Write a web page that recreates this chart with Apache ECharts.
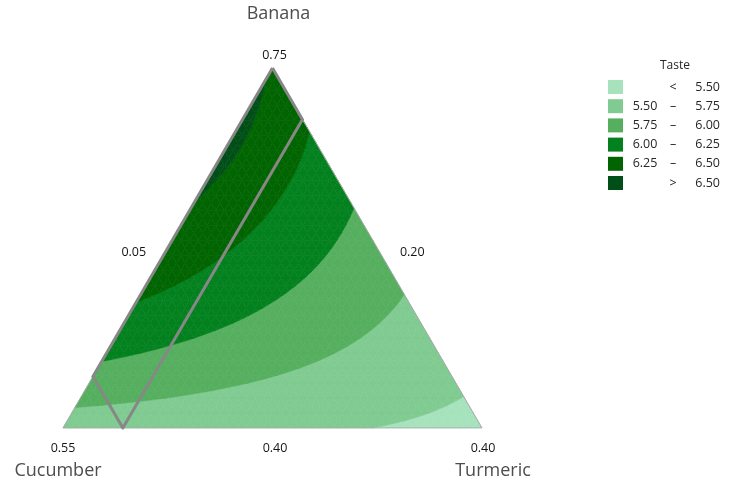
<!DOCTYPE html>
<html><head><meta charset="utf-8">
<script src="https://cdn.jsdelivr.net/npm/echarts@6/dist/echarts.min.js"></script>
<style>html,body{margin:0;padding:0;background:#fff}#c{width:735px;height:484px}</style>
</head><body><div id="c"></div>
<script>
// ---- data ----
const componentNames = ['Banana', 'Cucumber', 'Turmeric'];
const lowerBounds = [0.40, 0.20, 0.05];        // Banana, Cucumber, Turmeric
const vertexTickLabels = ['0.75', '0.55', '0.40'];   // apex, bottom-left, bottom-right
const edgeTickLabels = ['0.05', '0.20', '0.40'];     // left edge, right edge, bottom edge

// Taste read on a lattice of the pseudo-component simplex (6 steps per side).
// Row k = Banana level k/6; entries go from the Cucumber side towards Turmeric.
const tasteB0 = [5.624, 5.605, 5.580, 5.551, 5.516, 5.477, 5.432];
const tasteB1 = [5.967, 5.897, 5.821, 5.741, 5.655, 5.565];
const tasteB2 = [6.230, 6.109, 5.982, 5.851, 5.714];
const tasteB3 = [6.413, 6.240, 6.063, 5.880];
const tasteB4 = [6.520, 6.295, 6.063];
const tasteB5 = [6.555, 6.262];
const tasteB6 = [6.478];

const contourLevels = [5.50, 5.75, 6.00, 6.25, 6.50];
const legendLow  = ['\u00a0', '5.50', '5.75', '6.00', '6.25', '\u00a0'];
const legendSep  = ['<', '\u2013', '\u2013', '\u2013', '\u2013', '>'];
const legendHigh = ['5.50', '5.75', '6.00', '6.25', '6.50', '6.50'];
const bandColors = ['#a6e3bd', '#80cb91', '#55af5f', '#03811f', '#006500', '#004f17'];

// feasible region outline (component amounts)
const regionBanana   = [0.75, 0.70, 0.40, 0.45];
const regionCucumber = [0.20, 0.20, 0.50, 0.50];
const regionTurmeric = [0.05, 0.10, 0.10, 0.05];

// ---- geometry helpers ----
const taste = [tasteB0, tasteB1, tasteB2, tasteB3, tasteB4, tasteB5, tasteB6];
const N = 6, S = 16, R3 = Math.sqrt(3) / 2;
const range = 1 - lowerBounds[0] - lowerBounds[1] - lowerBounds[2];
function xy(b, t) { return [t + b / 2, b * R3]; }

const tris = [];
function addMacro(c0, c1, c2, m01, m12, m02) {
  const V = p => taste[p[0]][p[1]];
  const v0 = V(c0), v1 = V(c1), v2 = V(c2), w01 = V(m01), w12 = V(m12), w02 = V(m02);
  const pts = [];
  for (let p = 0; p <= S; p++) {
    const row = [];
    for (let q = 0; q <= S - p; q++) {
      const l1 = p / S, l2 = q / S, l0 = 1 - l1 - l2;
      const b = (l0 * c0[0] + l1 * c1[0] + l2 * c2[0]) / N;
      const t = (l0 * c0[1] + l1 * c1[1] + l2 * c2[1]) / N;
      const val = v0 * l0 * (2 * l0 - 1) + v1 * l1 * (2 * l1 - 1) + v2 * l2 * (2 * l2 - 1)
        + 4 * (w01 * l0 * l1 + w12 * l1 * l2 + w02 * l0 * l2);
      const c = xy(b, t);
      row.push([c[0], c[1], val]);
    }
    pts.push(row);
  }
  for (let p = 0; p < S; p++) {
    for (let q = 0; q <= S - 1 - p; q++) {
      const a = pts[p][q], bb = pts[p + 1][q], cc = pts[p][q + 1];
      tris.push([a[0], a[1], a[2], bb[0], bb[1], bb[2], cc[0], cc[1], cc[2]]);
      if (p + q <= S - 2) {
        const d = pts[p + 1][q + 1];
        tris.push([bb[0], bb[1], bb[2], d[0], d[1], d[2], cc[0], cc[1], cc[2]]);
      }
    }
  }
}
for (let i = 0; i <= N - 2; i += 2) {
  for (let j = 0; i + j <= N - 2; j += 2) {
    addMacro([i, j], [i, j + 2], [i + 2, j], [i, j + 1], [i + 1, j + 1], [i + 1, j]);
    if (i + j <= N - 4) {
      addMacro([i + 2, j], [i, j + 2], [i + 2, j + 2], [i + 1, j + 1], [i + 1, j + 2], [i + 2, j + 1]);
    }
  }
}

function clipHalf(poly, g) {
  const res = [];
  for (let i = 0; i < poly.length; i++) {
    const a = poly[i], b = poly[(i + 1) % poly.length];
    const ga = g(a[2]), gb = g(b[2]);
    if (ga >= 0) res.push(a);
    if ((ga >= 0) !== (gb >= 0)) {
      const s = ga / (ga - gb);
      res.push([a[0] + s * (b[0] - a[0]), a[1] + s * (b[1] - a[1]), a[2] + s * (b[2] - a[2])]);
    }
  }
  return res;
}

const bandNames = legendHigh.map((h, k) => legendLow[k] + ' ' + legendSep[k] + ' ' + h);

function bandSeries(k) {
  const lo = k === 0 ? -Infinity : contourLevels[k - 1];
  const hi = k === contourLevels.length ? Infinity : contourLevels[k];
  return {
    type: 'custom', name: bandNames[k], coordinateSystem: 'cartesian2d',
    data: tris, encode: { x: [0, 3, 6], y: [1, 4, 7] },
    silent: true, animation: false, progressive: 0,
    itemStyle: { color: bandColors[k] },
    renderItem: function (params, api) {
      const d = tris[params.dataIndex];
      let poly = [[d[0], d[1], d[2]], [d[3], d[4], d[5]], [d[6], d[7], d[8]]];
      if (lo > -Infinity) poly = clipHalf(poly, v => v - lo);
      if (poly.length < 3) return null;
      if (hi < Infinity) poly = clipHalf(poly, v => hi - v);
      if (poly.length < 3) return null;
      return {
        type: 'polygon',
        shape: { points: poly.map(p => api.coord([p[0], p[1]])) },
        style: { fill: bandColors[k], stroke: bandColors[k], lineWidth: 0.6 }
      };
    }
  };
}

function toXY(B, C, T) {
  const b = (B - lowerBounds[0]) / range, t = (T - lowerBounds[2]) / range;
  return xy(b, t);
}
const regionLine = regionBanana.map((B, i) => toXY(B, regionCucumber[i], regionTurmeric[i]));
regionLine.push(regionLine[0]);
const triangleLine = [xy(1, 0), xy(0, 0), xy(0, 1), xy(1, 0)];

const chart = echarts.init(document.getElementById('c'), null, { renderer: 'canvas' });
const series = [];
for (let k = 0; k < bandColors.length; k++) series.push(bandSeries(k));
series.push({
  type: 'line', data: triangleLine, symbol: 'none', silent: true, animation: false, z: 3,
  lineStyle: { color: '#a8a8a8', width: 1 }
});
series.push({
  type: 'line', data: regionLine, symbol: 'none', silent: true, animation: false, z: 4,
  lineStyle: { color: '#878787', width: 3, join: 'miter' }
});

const FONT = '"Open Sans", "Noto Sans", sans-serif';
const LF = 12.5, LC = '#262626';
chart.setOption({
  animation: false,
  grid: { left: 63, top: 68, width: 419, height: 360, containLabel: false },
  xAxis: { type: 'value', min: 0, max: 1, show: false },
  yAxis: { type: 'value', min: 0, max: R3, show: false },
  legend: {
    orient: 'vertical', left: 603, top: 75, icon: 'rect', itemWidth: 15, itemHeight: 14,
    itemGap: 5.2, selectedMode: false, data: bandNames,
    formatter: function (name) {
      const k = bandNames.indexOf(name);
      return '{a|' + legendLow[k] + '}{b|' + legendSep[k] + '}{c|' + legendHigh[k] + '}';
    },
    textStyle: {
      fontFamily: FONT, fontSize: LF, color: LC,
      rich: {
        a: { width: 34, align: 'right', fontFamily: FONT, fontSize: LF, color: LC },
        b: { width: 22, align: 'center', fontFamily: FONT, fontSize: LF, color: LC },
        c: { width: 36, align: 'right', fontFamily: FONT, fontSize: LF, color: LC }
      }
    }
  },
  series: series
});

function px(p) { return chart.convertToPixel({ gridIndex: 0 }, p); }
function label(anchor, dx, dy, text, size, color) {
  const p = px(anchor);
  return {
    type: 'text', x: p[0] + dx, y: p[1] + dy, silent: true,
    style: { text: text, fill: color, font: size + 'px ' + FONT, align: 'center', verticalAlign: 'middle' }
  };
}
const apex = xy(1, 0), cuc = xy(0, 0), tur = xy(0, 1);
const NC = '#4d4d4d', TC = '#141414';
const graphics = [
  label(apex, 6, -54, componentNames[0], 18, NC),
  label(cuc, -5, 43, componentNames[1], 18, NC),
  label(tur, 11, 43, componentNames[2], 18, NC),
  label(apex, 2, -13, vertexTickLabels[0], 12.5, TC),
  label(cuc, 0, 20, vertexTickLabels[1], 12.5, TC),
  label(tur, 1, 20, vertexTickLabels[2], 12.5, TC),
  label(xy(0.5, 0), -34, 4, edgeTickLabels[0], 12.5, TC),
  label(xy(0.5, 0.5), 35, 4, edgeTickLabels[1], 12.5, TC),
  label(xy(0, 0.5), 2.5, 20, edgeTickLabels[2], 12.5, TC),
  {
    type: 'text', x: 675, y: 66, silent: true,
    style: { text: 'Taste', fill: LC, font: '12px ' + FONT, align: 'center', verticalAlign: 'middle' }
  }
];
chart.setOption({ graphic: graphics });
</script>
</body></html>
